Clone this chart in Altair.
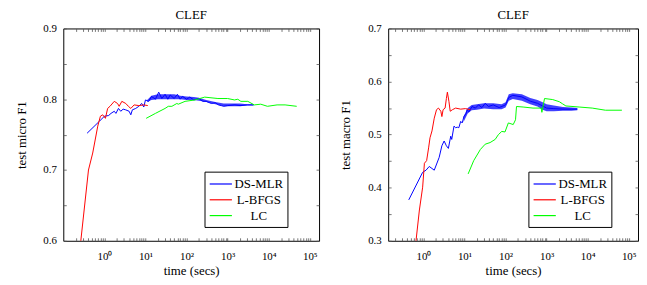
import altair as alt
import pandas as pd

SERIES = ["DS-MLR", "L-BFGS", "LC"]
COLORS = ["#0000ff", "#ff0000", "#00ff00"]
FONT = "Liberation Serif, Times New Roman, serif"

# ---------------- left panel (test micro F1) ----------------
L_DS_X = [0.38, 0.76, 1.0, 1.27, 1.45, 1.74, 1.91, 2.2, 2.5, 2.86, 3.3, 4.0, 4.4, 4.8, 5.8,
          6.9, 8.1, 9.1, 10, 12, 14, 17.5, 21, 25, 30, 35, 40, 50, 60, 70, 80, 100, 120,
          150, 200, 250, 300, 400, 500, 600, 700, 800, 1000, 1500, 2000, 3000, 4300]
L_DS_Y = [0.752, 0.769, 0.776, 0.777, 0.780, 0.783, 0.780, 0.787, 0.783, 0.786, 0.785, 0.783,
          0.778, 0.785, 0.787, 0.790, 0.794, 0.789, 0.799, 0.797, 0.804, 0.800, 0.810, 0.801,
          0.807, 0.800, 0.806, 0.801, 0.807, 0.800, 0.804, 0.800, 0.803, 0.799, 0.801, 0.797,
          0.797, 0.794, 0.795, 0.792, 0.791, 0.790, 0.791, 0.792, 0.791, 0.792, 0.792]
L_BAND_X = [11, 14, 20, 30, 50, 70, 100, 150, 200, 300, 500, 800, 1200, 2000, 3000, 4300]
L_BAND_LO = [0.796, 0.799, 0.800, 0.800, 0.800, 0.800, 0.799, 0.799, 0.798, 0.796, 0.793,
             0.790, 0.790, 0.790, 0.791, 0.791]
L_BAND_HI = [0.799, 0.805, 0.807, 0.807, 0.807, 0.805, 0.804, 0.803, 0.802, 0.799, 0.796,
             0.794, 0.794, 0.794, 0.793, 0.793]
L_LB_X = [0.245, 0.41, 0.52, 0.69, 0.80, 0.91, 1.06, 1.2, 1.37, 1.74, 2.09, 2.29, 2.66, 3.32,
          3.84, 4.4, 5.3, 6.9, 9.1, 11.4]
L_LB_Y = [0.58, 0.700, 0.724, 0.762, 0.776, 0.778, 0.773, 0.787, 0.790, 0.797, 0.794, 0.790,
          0.797, 0.794, 0.790, 0.787, 0.792, 0.791, 0.792, 0.791]
L_LC_X = [10.4, 17.5, 30, 36, 44, 58, 63, 92, 160, 277, 580, 1000, 1470, 1770, 2100, 3100,
          4450, 6400, 9300, 16000, 25000, 48000]
L_LC_Y = [0.773, 0.780, 0.787, 0.790, 0.790, 0.794, 0.793, 0.797, 0.799, 0.803, 0.801, 0.801,
          0.799, 0.800, 0.797, 0.797, 0.792, 0.793, 0.790, 0.792, 0.792, 0.790]

# ---------------- right panel (test macro F1) ----------------
R_DS_X = [0.44, 0.96, 1.16, 1.39, 1.84, 2.42, 2.82, 3.2, 3.63, 4.06, 4.63, 4.9, 5.56, 6.1, 6.7,
          7.3, 8.1, 8.8, 9.7, 11, 11.6, 12.8, 15.3, 18.5, 22, 26.6, 32, 38.6, 50, 70, 100, 120,
          150, 250, 400, 600, 800, 1000, 1500, 2500, 4000, 5600]
R_DS_Y = [0.377, 0.429, 0.433, 0.440, 0.433, 0.457, 0.479, 0.488, 0.479, 0.474, 0.497, 0.491,
          0.516, 0.513, 0.514, 0.513, 0.525, 0.522, 0.534, 0.540, 0.547, 0.543, 0.553, 0.550,
          0.556, 0.551, 0.559, 0.553, 0.556, 0.551, 0.556, 0.570, 0.574, 0.571, 0.563, 0.559,
          0.554, 0.550, 0.549, 0.548, 0.548, 0.548]
R_BAND_X = [9.5, 12, 15, 20, 30, 50, 80, 100, 120, 150, 250, 400, 600, 800, 1000, 1500, 2500,
            4000, 5600]
R_BAND_LO = [0.524, 0.540, 0.546, 0.547, 0.549, 0.548, 0.548, 0.551, 0.564, 0.567, 0.564,
             0.557, 0.553, 0.547, 0.544, 0.544, 0.545, 0.545, 0.546]
R_BAND_HI = [0.534, 0.550, 0.556, 0.557, 0.559, 0.559, 0.557, 0.561, 0.576, 0.578, 0.576,
             0.569, 0.565, 0.561, 0.557, 0.555, 0.552, 0.551, 0.550]
R_LB_X = [0.64, 0.80, 0.96, 1.06, 1.20, 1.34, 1.45, 1.62, 1.84, 2.09, 2.33, 2.66, 2.82, 3.02,
          3.38, 3.63, 3.84, 4.2, 4.5, 5.1, 6.1, 8.1, 10.6, 14]
R_LB_Y = [0.29, 0.358, 0.401, 0.446, 0.451, 0.475, 0.494, 0.507, 0.531, 0.547, 0.550, 0.544,
          0.534, 0.547, 0.550, 0.568, 0.580, 0.562, 0.544, 0.547, 0.550, 0.548, 0.549, 0.547]
R_LC_X = [12.3, 16.8, 24.4, 32, 42, 56, 67, 81, 97, 117, 154, 175, 185, 268, 466, 738, 767, 890,
          1410, 2040, 2450, 2950, 6200, 12900, 27000, 68000]
R_LC_Y = [0.426, 0.451, 0.472, 0.482, 0.485, 0.491, 0.500, 0.506, 0.505, 0.522, 0.519, 0.528,
          0.553, 0.552, 0.550, 0.550, 0.542, 0.568, 0.566, 0.562, 0.558, 0.554, 0.552, 0.550,
          0.546, 0.546]

# axis ticks / labels
DECADES = [-1, 0, 1, 2, 3, 4, 5]
X_TICKS = [round(k * 10.0 ** d, 6) for d in DECADES for k in range(1, 10)
           if 0.15 < k * 10.0 ** d <= 100000]
X_LABELS = ("datum.value == 1 ? '10⁰' : datum.value == 10 ? '10¹' : datum.value == 100 ? '10²'"
            " : datum.value == 1000 ? '10³' : datum.value == 10000 ? '10⁴'"
            " : datum.value == 100000 ? '10⁵' : ''")
Y_LABELS = "round(datum.value * 20) % 2 == 0 ? format(datum.value, '.1f') : ''"
L_Y_TICKS = [0.6, 0.65, 0.7, 0.75, 0.8, 0.85, 0.9]
R_Y_TICKS = [0.3, 0.35, 0.4, 0.45, 0.5, 0.55, 0.6, 0.65, 0.7]


def lines_df(ds, lb, lc):
    rows = []
    for name, (xs, ys) in zip(SERIES, [ds, lb, lc]):
        for x, y in zip(xs, ys):
            rows.append({"t": x, "v": y, "s": name})
    return pd.DataFrame(rows)


def panel(title, ytitle, xdom, ydom, yticks, ldf, bdf, width, lx, ly):
    xs = alt.Scale(type="log", domain=xdom, nice=False)
    ys = alt.Scale(domain=ydom, nice=False, zero=False)
    tick = dict(tickSize=3, offset=-3, domain=False, grid=False, tickColor="#555",
                tickWidth=0.8, labelOverlap=False, labelFlush=False)
    band = alt.Chart(bdf).mark_area(color="#0000ff", opacity=0.75, clip=True).encode(
        x=alt.X("t:Q", scale=xs, axis=alt.Axis(orient="bottom", values=X_TICKS,
                labelExpr=X_LABELS, title="time (secs)", labelPadding=10, titlePadding=3, **tick)),
        y=alt.Y("lo:Q", scale=ys, axis=alt.Axis(orient="left", values=yticks,
                labelExpr=Y_LABELS, title=ytitle, labelPadding=7, titlePadding=15, **tick)),
        y2="hi:Q",
    )
    lines = alt.Chart(ldf).mark_line(strokeWidth=1, clip=True).encode(
        x=alt.X("t:Q", scale=xs, axis=alt.Axis(orient="top", values=X_TICKS, labels=False,
                title=None, **tick)),
        y=alt.Y("v:Q", scale=ys, axis=alt.Axis(orient="right", values=yticks, labels=False,
                title=None, **tick)),
        color=alt.Color("s:N", scale=alt.Scale(domain=SERIES, range=COLORS),
                        legend=alt.Legend(orient="none", legendX=lx, legendY=ly, title=None,
                                          symbolType="M-1.5,0H1.5", symbolSize=225,
                                          symbolStrokeWidth=1.2, symbolOffset=4,
                                          symbolFillColor="transparent", labelFont=FONT,
                                          labelFontSize=13, labelAlign="center",
                                          labelOffset=30, strokeColor="black",
                                          fillColor="white", padding=4, rowPadding=0,
                                          cornerRadius=0, labelColor="black")),
    )
    return alt.layer(band, lines).resolve_axis(x="independent", y="independent").properties(
        width=width, height=215,
        title=alt.TitleParams(title, font=FONT, fontSize=13, fontWeight="normal",
                              offset=1, color="black"),
    )


left = panel("CLEF", "test micro F1", [0.1, 168000], [0.6, 0.9], L_Y_TICKS,
             lines_df((L_DS_X, L_DS_Y), (L_LB_X, L_LB_Y), (L_LC_X, L_LC_Y)),
             pd.DataFrame({"t": L_BAND_X, "lo": L_BAND_LO, "hi": L_BAND_HI}), 259, 143, 145)
right = panel("CLEF", "test macro F1", [0.139, 168000], [0.3, 0.7], R_Y_TICKS,
              lines_df((R_DS_X, R_DS_Y), (R_LB_X, R_LB_Y), (R_LC_X, R_LC_Y)),
              pd.DataFrame({"t": R_BAND_X, "lo": R_BAND_LO, "hi": R_BAND_HI}), 253, 142, 145)

chart = alt.hconcat(left, right, spacing=19).resolve_legend(color="independent").resolve_scale(
    color="independent").properties(
    padding={"left": 6, "top": -2, "right": 0, "bottom": 0}, background="white"
).configure_view(stroke="black", strokeWidth=1).configure_axis(
    labelFont=FONT, labelFontSize=11, labelColor="black", titleFont=FONT, titleFontSize=13,
    titleFontWeight="normal", titleColor="black"
)

chart.save("out.html", embed_options={"renderer": "svg", "actions": False})
